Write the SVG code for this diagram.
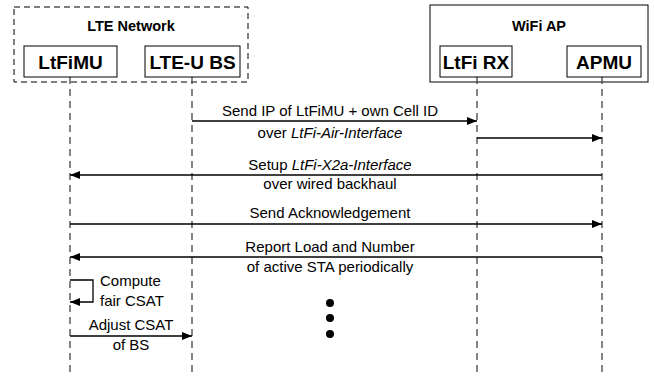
<svg xmlns="http://www.w3.org/2000/svg" width="654" height="376" viewBox="0 0 654 376">
<style>
.box{fill:#fff;stroke:#000;stroke-width:1}
.grp{fill:none;stroke:#000;stroke-width:1}
.dash{stroke-dasharray:6,4}
.nl{font-family:"Liberation Sans",Arial,sans-serif;font-weight:bold;font-size:19px;text-anchor:middle}
.gl{font-family:"Liberation Sans",Arial,sans-serif;font-weight:bold;font-size:14.5px;text-anchor:middle}
.life{stroke:#444;stroke-width:1.3;stroke-dasharray:7,5;fill:none}
.msg{stroke:#000;stroke-width:1.3;fill:none}
.t{font-family:"Liberation Sans",Arial,sans-serif;font-size:15px;text-anchor:middle;fill:#000}
.ts{text-anchor:start}
</style>
<defs>
<marker id="ah" viewBox="0 0 10 8" refX="10" refY="4" markerWidth="10" markerHeight="8" markerUnits="userSpaceOnUse" orient="auto">
<path d="M0,0 L10,4 L0,8 Z" fill="#000"/>
</marker>
</defs>
<g id="lte-network">
<rect class="grp dash" x="14" y="7" width="234" height="75"/>
<text class="gl" x="131" y="31">LTE Network</text>
</g>
<g id="wifi-ap">
<rect class="grp" x="430" y="5" width="218" height="77"/>
<text class="gl" x="539" y="31">WiFi AP</text>
</g>
<g id="lifelines">
<line class="life" x1="70" y1="77" x2="70" y2="376"/>
<line class="life" x1="192" y1="77" x2="192" y2="376"/>
<line class="life" x1="477" y1="77" x2="477" y2="376"/>
<line class="life" x1="602" y1="77" x2="602" y2="376"/>
</g>
<g id="ltfimu">
<rect class="box" x="24" y="46" width="93" height="31"/>
<text class="nl" x="70.5" y="68.5">LtFiMU</text>
</g>
<g id="lteu-bs">
<rect class="box" x="145" y="46" width="95" height="31"/>
<text class="nl" x="192.5" y="68.5">LTE-U BS</text>
</g>
<g id="ltfi-rx">
<rect class="box" x="440" y="46" width="72" height="31"/>
<text class="nl" x="476" y="68.5">LtFi RX</text>
</g>
<g id="apmu">
<rect class="box" x="567" y="46" width="74" height="31"/>
<text class="nl" x="604" y="68.5">APMU</text>
</g>
<g id="connectors">
<line class="msg" x1="192" y1="121" x2="477" y2="121" marker-end="url(#ah)"/>
<line class="msg" x1="477" y1="138" x2="602" y2="138" marker-end="url(#ah)"/>
<line class="msg" x1="602" y1="175" x2="70" y2="175" marker-end="url(#ah)"/>
<line class="msg" x1="70" y1="224" x2="602" y2="224" marker-end="url(#ah)"/>
<line class="msg" x1="602" y1="257" x2="70" y2="257" marker-end="url(#ah)"/>
<polyline class="msg" points="70,280 93,280 93,302 70,302" marker-end="url(#ah)"/>
<line class="msg" x1="70" y1="336" x2="192" y2="336" marker-end="url(#ah)"/>
</g>
<g id="labels">
<text class="t" x="330" y="116">Send IP of LtFiMU + own Cell ID</text>
<text class="t" x="330" y="138">over <tspan font-style="italic">LtFi-Air-Interface</tspan></text>
<text class="t" x="330" y="170">Setup <tspan font-style="italic">LtFi-X2a-Interface</tspan></text>
<text class="t" x="330" y="189">over wired backhaul</text>
<text class="t" x="330" y="218">Send Acknowledgement</text>
<text class="t" x="330" y="252">Report Load and Number</text>
<text class="t" x="330" y="272">of active STA periodically</text>
<text class="t ts" x="100" y="286">Compute</text>
<text class="t ts" x="100" y="306">fair CSAT</text>
<text class="t" x="131" y="330">Adjust CSAT</text>
<text class="t" x="131" y="350">of BS</text>
</g>
<g id="ellipsis">
<circle cx="330" cy="303" r="4"/>
<circle cx="330" cy="318" r="4"/>
<circle cx="330" cy="334" r="4"/>
</g>
</svg>
